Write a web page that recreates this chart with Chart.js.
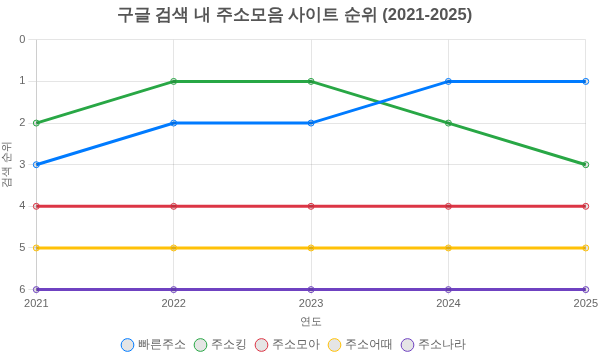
<!DOCTYPE html>
<html><head><meta charset="utf-8">
<script src="https://cdn.jsdelivr.net/npm/chart.js@4/dist/chart.umd.min.js"></script>
<style>html,body{margin:0;padding:0;background:#fff}#wrap{width:601px;height:361px}</style>
</head><body><div id="wrap"><canvas id="c"></canvas></div>
<script>
const years = ['2021','2022','2023','2024','2025'];
const seriesNames = ['빠른주소','주소킹','주소모아','주소어때','주소나라'];
const fastAddr = [3,2,2,1,1];
const addrKing = [2,1,1,2,3];
const addrMoa = [4,4,4,4,4];
const addrEottae = [5,5,5,5,5];
const addrNara = [6,6,6,6,6];
const colors = ['#007bff','#28a745','#dc3545','#ffc107','#6f42c1'];
const values = [fastAddr, addrKing, addrMoa, addrEottae, addrNara];

new Chart(document.getElementById('c'), {
  type: 'line',
  data: {
    labels: years,
    datasets: values.map((v,i)=>({
      label: seriesNames[i], data: v, borderColor: colors[i],
      borderWidth: 3, pointRadius: 3, pointBorderWidth: 1, tension: 0, clip: false
    }))
  },
  options: {
    responsive: true, maintainAspectRatio: false, animation: false,
    layout: {padding: {right: 12}},
    plugins: {
      title: {display: true, text: '구글 검색 내 주소모음 사이트 순위 (2021-2025)', font: {size: 16.5, weight: 'bold'}, color: '#555', padding: {top: 6, bottom: 14}},
      legend: {position: 'bottom', labels: {usePointStyle: true, boxWidth: 9, boxHeight: 9, padding: 10, font: {size: 12}}}
    },
    scales: {
      y: {reverse: true, min: 0, max: 6, ticks: {stepSize: 1, font: {size: 11}}, title: {display: true, text: '검색 순위', font: {size: 11}, padding: {top: 0, bottom: 3}}},
      x: {grid: {tickLength: 5}, ticks: {font: {size: 11}}, title: {display: true, text: '연도', font: {size: 11}, padding: {top: 2, bottom: 0}}}
    }
  }
});
</script></body></html>
